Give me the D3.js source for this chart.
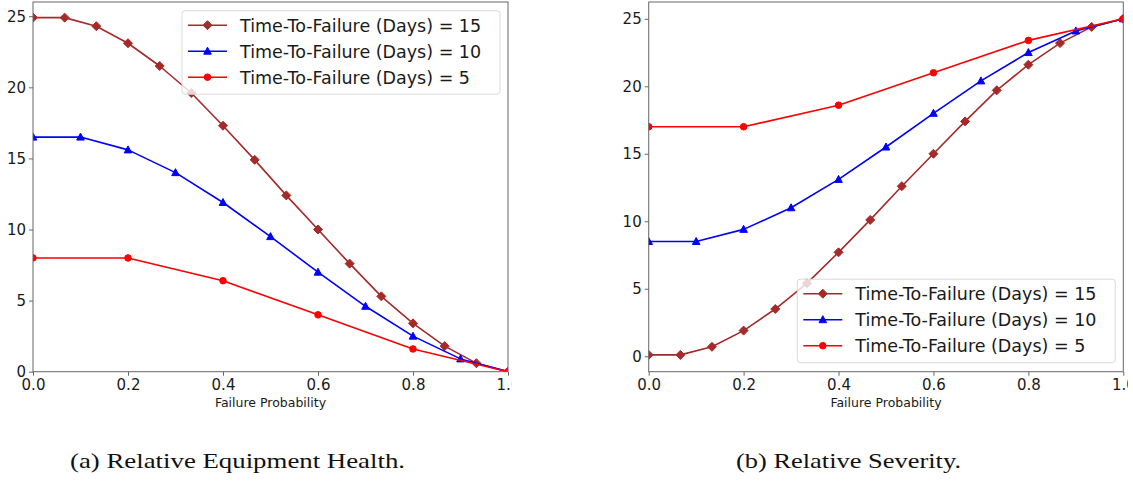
<!DOCTYPE html>
<html>
<head>
<meta charset="utf-8">
<script src="https://cdn.jsdelivr.net/npm/d3@7"></script>
<style>
  html, body { margin: 0; padding: 0; background: #fff; }
  svg { display: block; }
</style>
</head>
<body>
<svg id="chart" width="1133" height="482"></svg>
<script>
// ---------------- DATA ----------------
const xTicks = [0, 0.2, 0.4, 0.6, 0.8, 1.0];
const yTicks = [0, 5, 10, 15, 20, 25];
const seriesNames = ["Time-To-Failure (Days) = 15", "Time-To-Failure (Days) = 10", "Time-To-Failure (Days) = 5"];

const x15 = [0, 0.0667, 0.1333, 0.2, 0.2667, 0.3333, 0.4, 0.4667, 0.5333, 0.6, 0.6667, 0.7333, 0.8, 0.8667, 0.9333, 1.0];
const x10 = [0, 0.1, 0.2, 0.3, 0.4, 0.5, 0.6, 0.7, 0.8, 0.9, 1.0];
const x5  = [0, 0.2, 0.4, 0.6, 0.8, 1.0];

// (a) Relative Equipment Health
const health15 = [24.9, 24.9, 24.3, 23.1, 21.5, 19.6, 17.3, 14.9, 12.4, 10.0, 7.6, 5.3, 3.4, 1.8, 0.6, 0];
const health10 = [16.5, 16.5, 15.6, 14.0, 11.9, 9.5, 7.0, 4.6, 2.5, 0.9, 0];
const health5  = [8.0, 8.0, 6.4, 4.0, 1.6, 0];

// (b) Relative Severity
const severity15 = [0.1, 0.1, 0.7, 1.9, 3.5, 5.4, 7.7, 10.1, 12.6, 15.0, 17.4, 19.7, 21.6, 23.2, 24.4, 25.0];
const severity10 = [8.5, 8.5, 9.4, 11.0, 13.1, 15.5, 18.0, 20.4, 22.5, 24.1, 25.0];
const severity5  = [17.0, 17.0, 18.6, 21.0, 23.4, 25.0];

const captions = ["(a) Relative Equipment Health.", "(b) Relative Severity."];

// ---------------- STYLE ----------------
const colors = ["#a52a2a", "#0000ff", "#ff0000"];
const markers = ["diamond", "triangle", "circle"];

const svg = d3.select("#chart");
svg.append("rect").attr("width", 1133).attr("height", 482).attr("fill", "#fff");
const defs = svg.append("defs");

function markerPath(type) {
  if (type === "diamond") return "M0,-4.5L4.5,0L0,4.5L-4.5,0Z";
  if (type === "triangle") return "M0,-4L3.8,3L-3.8,3Z";
  return d3.symbol().type(d3.symbolCircle).size(34)();
}

function panel(cfg) {
  const { id, left, right, top, bottom, yDomain, series, legendPos, labelClip, caption, capX, capW } = cfg;
  const x = d3.scaleLinear().domain([0, 1]).range([left, right]);
  const y = d3.scaleLinear().domain(yDomain).range([bottom, top]);

  defs.append("clipPath").attr("id", "clip" + id)
    .append("rect").attr("x", left).attr("y", top).attr("width", right - left).attr("height", bottom - top);
  defs.append("clipPath").attr("id", "lclip" + id)
    .append("rect").attr("x", 0).attr("y", 0).attr("width", labelClip).attr("height", 482);

  const g = svg.append("g");

  // Axes
  const xAxis = g.append("g").attr("transform", `translate(0,${bottom})`)
    .attr("clip-path", `url(#lclip${id})`)
    .call(d3.axisBottom(x).tickValues(xTicks).tickFormat(d3.format(".1f")).tickSize(4).tickPadding(4));
  const yAxis = g.append("g").attr("transform", `translate(${left},0)`)
    .call(d3.axisLeft(y).tickValues(yTicks).tickFormat(d3.format("d")).tickSize(4).tickPadding(3));
  [xAxis, yAxis].forEach(a => {
    a.select(".domain").remove();
    a.selectAll(".tick line").attr("stroke", "#666").attr("stroke-width", 1);
    a.selectAll(".tick text").attr("fill", "#1a1a1a").style("font-family", "DejaVu Sans").style("font-size", "15px");
  });

  // Data
  const plot = g.append("g").attr("clip-path", `url(#clip${id})`);
  series.forEach((s, i) => {
    const pts = s.xs.map((xv, j) => [xv, s.ys[j]]);
    plot.append("path").datum(pts)
      .attr("fill", "none").attr("stroke", colors[i]).attr("stroke-width", 1.6)
      .attr("stroke-linejoin", "round")
      .attr("d", d3.line().x(d => x(d[0])).y(d => y(d[1])));
    plot.selectAll(null).data(pts).enter().append("path")
      .attr("transform", d => `translate(${x(d[0])},${y(d[1])})`)
      .attr("d", markerPath(markers[i]))
      .attr("fill", colors[i]).attr("stroke", colors[i]).attr("stroke-width", 1);
  });

  // Frame
  g.append("rect").attr("x", left).attr("y", top).attr("width", right - left).attr("height", bottom - top)
    .attr("fill", "none").attr("stroke", "#666").attr("stroke-width", 1);

  // Axis label
  g.append("text").attr("x", (left + right) / 2).attr("y", bottom + 35)
    .attr("text-anchor", "middle").style("font-family", "DejaVu Sans").style("font-size", "12.5px")
    .attr("fill", "#1a1a1a").text("Failure Probability");

  // Legend
  const lw = 318, lh = 83.5;
  const lx = right - 8 - lw;
  const ly = legendPos === "upper" ? top + 8.7 : bottom - 9 - lh;
  const lg = g.append("g");
  lg.append("rect").attr("x", lx).attr("y", ly).attr("width", lw).attr("height", lh)
    .attr("rx", 3).attr("fill", "#fff").attr("fill-opacity", 0.8)
    .attr("stroke", "#d9d9d9").attr("stroke-width", 1);
  seriesNames.forEach((name, i) => {
    const cy = ly + 14.5 + i * 26;
    lg.append("line").attr("x1", lx + 6).attr("x2", lx + 45).attr("y1", cy).attr("y2", cy)
      .attr("stroke", colors[i]).attr("stroke-width", 1.6);
    lg.append("path").attr("transform", `translate(${lx + 25.5},${cy})`)
      .attr("d", markerPath(markers[i])).attr("fill", colors[i]).attr("stroke", colors[i]).attr("stroke-width", 1);
    lg.append("text").attr("x", lx + 58).attr("y", cy + 6.3)
      .style("font-family", "DejaVu Sans").style("font-size", "17.5px").attr("fill", "#1a1a1a").text(name);
  });

  // Caption
  svg.append("text").attr("x", capX).attr("y", 468).attr("text-anchor", "middle")
    .style("font-family", "Liberation Serif").style("font-size", "22px").attr("fill", "#111")
    .attr("textLength", capW).attr("lengthAdjust", "spacingAndGlyphs")
    .text(caption);
}

panel({
  id: "a", left: 33, right: 508, top: 2, bottom: 371.7, yDomain: [0, 26],
  series: [{ xs: x15, ys: health15 }, { xs: x10, ys: health10 }, { xs: x5, ys: health5 }],
  legendPos: "upper", labelClip: 512, caption: captions[0], capX: 237.5, capW: 335
});
panel({
  id: "b", left: 648.7, right: 1123.3, top: 2, bottom: 371.7, yDomain: [-1.145, 26.245],
  series: [{ xs: x15, ys: severity15 }, { xs: x10, ys: severity10 }, { xs: x5, ys: severity5 }],
  legendPos: "lower", labelClip: 1128, caption: captions[1], capX: 848.5, capW: 225
});
</script>
</body>
</html>
